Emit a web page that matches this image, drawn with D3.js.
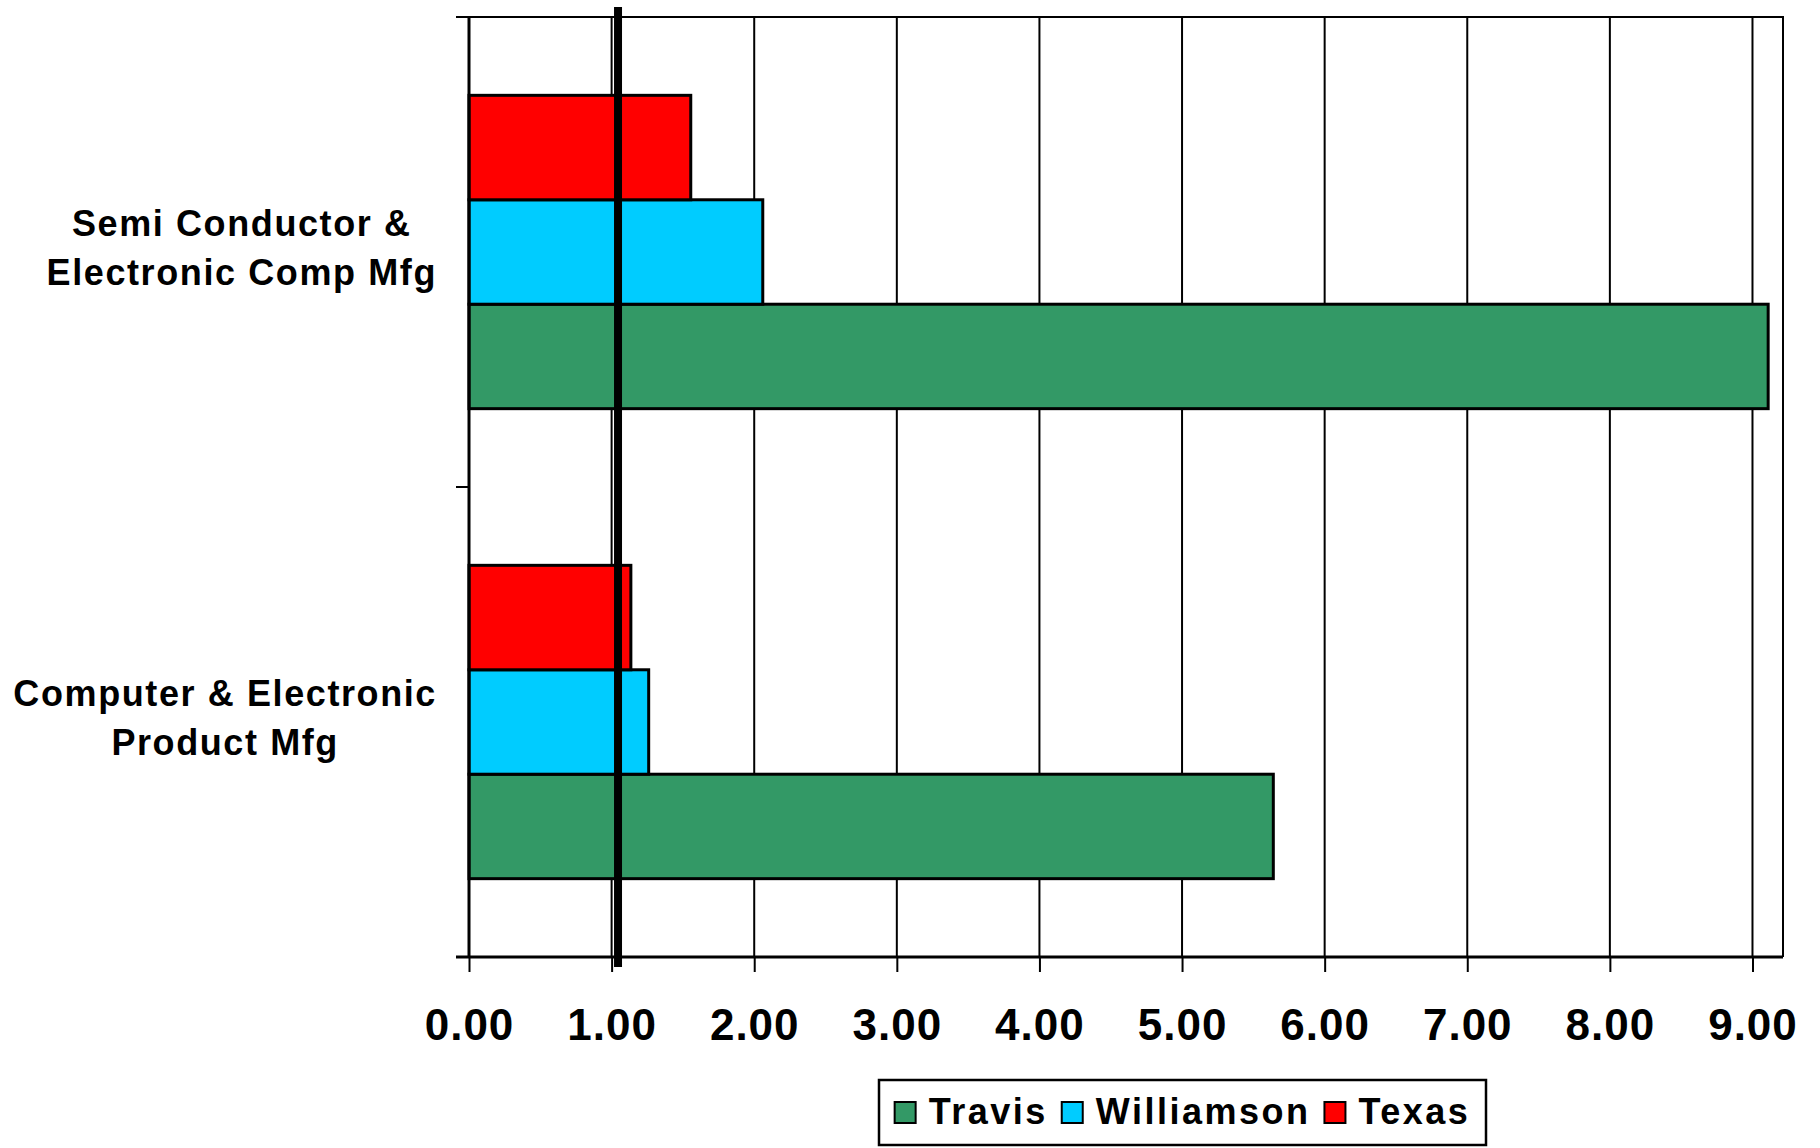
<!DOCTYPE html>
<html>
<head>
<meta charset="utf-8">
<script src="https://cdn.jsdelivr.net/npm/d3@7"></script>
<style>
  html, body { margin: 0; padding: 0; background: #fff; }
  svg { display: block; }
  text { font-family: Arial, "Liberation Sans", sans-serif; font-weight: bold; fill: #000; }
</style>
</head>
<body>
<svg id="chart" width="1820" height="1148"></svg>
<script>
// ---- data ----
const categories = ["Semi Conductor & Electronic Comp Mfg", "Computer & Electronic Product Mfg"];
const categoryLabelLines = [["Semi Conductor &", "Electronic Comp Mfg"], ["Computer & Electronic", "Product Mfg"]];
const seriesNames = ["Travis", "Williamson", "Texas"];
const travisValues = [9.11, 5.64];
const williamsonValues = [2.06, 1.26];
const texasValues = [1.555, 1.135];
const seriesColors = ["#339966", "#00CCFF", "#FF0000"];
const xTicks = [0, 1, 2, 3, 4, 5, 6, 7, 8, 9];
const xTickLabels = ["0.00", "1.00", "2.00", "3.00", "4.00", "5.00", "6.00", "7.00", "8.00", "9.00"];
const xMax = 9.214;
const referenceValue = 1.045;

const seriesValues = { "Travis": travisValues, "Williamson": williamsonValues, "Texas": texasValues };

// ---- layout ----
const plot = { left: 469, right: 1783, top: 17, bottom: 957 };
const svg = d3.select("#chart");

const x = d3.scaleLinear().domain([0, xMax]).range([plot.left, plot.right]);
const y0 = d3.scaleBand().domain(categories).range([plot.top, plot.bottom]).padding(0);
// Excel draws the last series on top within a group
const y1 = d3.scaleBand().domain(seriesNames.slice().reverse()).range([0, y0.bandwidth()]).paddingInner(0).paddingOuter(0.75);
const color = d3.scaleOrdinal().domain(seriesNames).range(seriesColors);

// gridlines
svg.append("g").selectAll("line").data(xTicks.filter(d => d > 0)).join("line")
  .attr("x1", d => x(d)).attr("x2", d => x(d))
  .attr("y1", plot.top).attr("y2", plot.bottom)
  .attr("stroke", "#000").attr("stroke-width", 2);

// plot border top & right
svg.append("path")
  .attr("d", `M${plot.left},${plot.top}H${plot.right}V${plot.bottom}`)
  .attr("fill", "none").attr("stroke", "#000").attr("stroke-width", 2);

// bars
const groups = svg.append("g").selectAll("g").data(categories).join("g")
  .attr("transform", d => `translate(0,${y0(d)})`);
groups.selectAll("rect")
  .data((c, i) => seriesNames.map(s => ({ series: s, value: seriesValues[s][i] })))
  .join("rect")
  .attr("x", x(0))
  .attr("y", d => y1(d.series))
  .attr("width", d => x(d.value) - x(0))
  .attr("height", y1.bandwidth())
  .attr("fill", d => color(d.series))
  .attr("stroke", "#000").attr("stroke-width", 3);

// x axis
const xAxis = d3.axisBottom(x).tickValues(xTicks).tickFormat((d, i) => xTickLabels[i]).tickSize(15).tickPadding(36);
const xg = svg.append("g").attr("transform", `translate(0,${plot.bottom})`).call(xAxis);
xg.select(".domain").attr("stroke", "#000").attr("stroke-width", 3).attr("d", `M${plot.left - 13},0H${plot.right}`);
xg.selectAll(".tick line").attr("stroke", "#000").attr("stroke-width", 2);
xg.selectAll(".tick text").attr("font-size", 44).attr("font-family", "Arial, 'Liberation Sans', sans-serif")
  .attr("font-weight", "bold").attr("fill", "#000").attr("letter-spacing", "1px").attr("dy", null).attr("y", 83);

// y axis (category boundaries as ticks)
svg.append("line").attr("x1", plot.left).attr("x2", plot.left).attr("y1", plot.top).attr("y2", plot.bottom)
  .attr("stroke", "#000").attr("stroke-width", 3);
const boundaries = categories.map(c => y0(c)).concat([y0(categories[categories.length - 1]) + y0.bandwidth()]);
svg.append("g").selectAll("line").data(boundaries).join("line")
  .attr("x1", plot.left - 13).attr("x2", plot.left)
  .attr("y1", d => d).attr("y2", d => d)
  .attr("stroke", "#000").attr("stroke-width", 2);

// category labels (lines centered within a block right-aligned near the axis)
const labelRight = 437;
const lineBaselineOffsets = [-16, 33];
categories.forEach((c, i) => {
  const cy = y0(c) + y0.bandwidth() / 2;
  const g = svg.append("g");
  const texts = categoryLabelLines[i].map((line, j) =>
    g.append("text").text(line).attr("font-size", 36).attr("letter-spacing", "1.6px")
      .attr("text-anchor", "middle").attr("y", cy + lineBaselineOffsets[j]));
  const maxW = d3.max(texts, t => t.node().getComputedTextLength());
  texts.forEach(t => t.attr("x", labelRight - maxW / 2));
});

// reference line
svg.append("line")
  .attr("x1", x(referenceValue)).attr("x2", x(referenceValue))
  .attr("y1", plot.top - 10).attr("y2", plot.bottom + 10)
  .attr("stroke", "#000").attr("stroke-width", 8);

// legend
const legendBox = { x: 879, y: 1080, w: 607, h: 65 };
svg.append("rect").attr("x", legendBox.x).attr("y", legendBox.y).attr("width", legendBox.w).attr("height", legendBox.h)
  .attr("fill", "#fff").attr("stroke", "#000").attr("stroke-width", 2.5);
const lg = svg.append("g");
let cursor = 0;
seriesNames.forEach(s => {
  const g = lg.append("g");
  g.append("rect").attr("x", 0).attr("y", -22).attr("width", 21).attr("height", 21)
    .attr("fill", color(s)).attr("stroke", "#000").attr("stroke-width", 2);
  const t = g.append("text").text(s).attr("x", 34).attr("y", 0).attr("font-size", 36).attr("letter-spacing", "2.5px");
  const w = 34 + t.node().getComputedTextLength();
  g.attr("transform", `translate(${cursor},0)`);
  cursor += w + 14;
});
const totalW = cursor - 14;
lg.attr("transform", `translate(${legendBox.x + legendBox.w / 2 - totalW / 2},${1124})`);
</script>
</body>
</html>
